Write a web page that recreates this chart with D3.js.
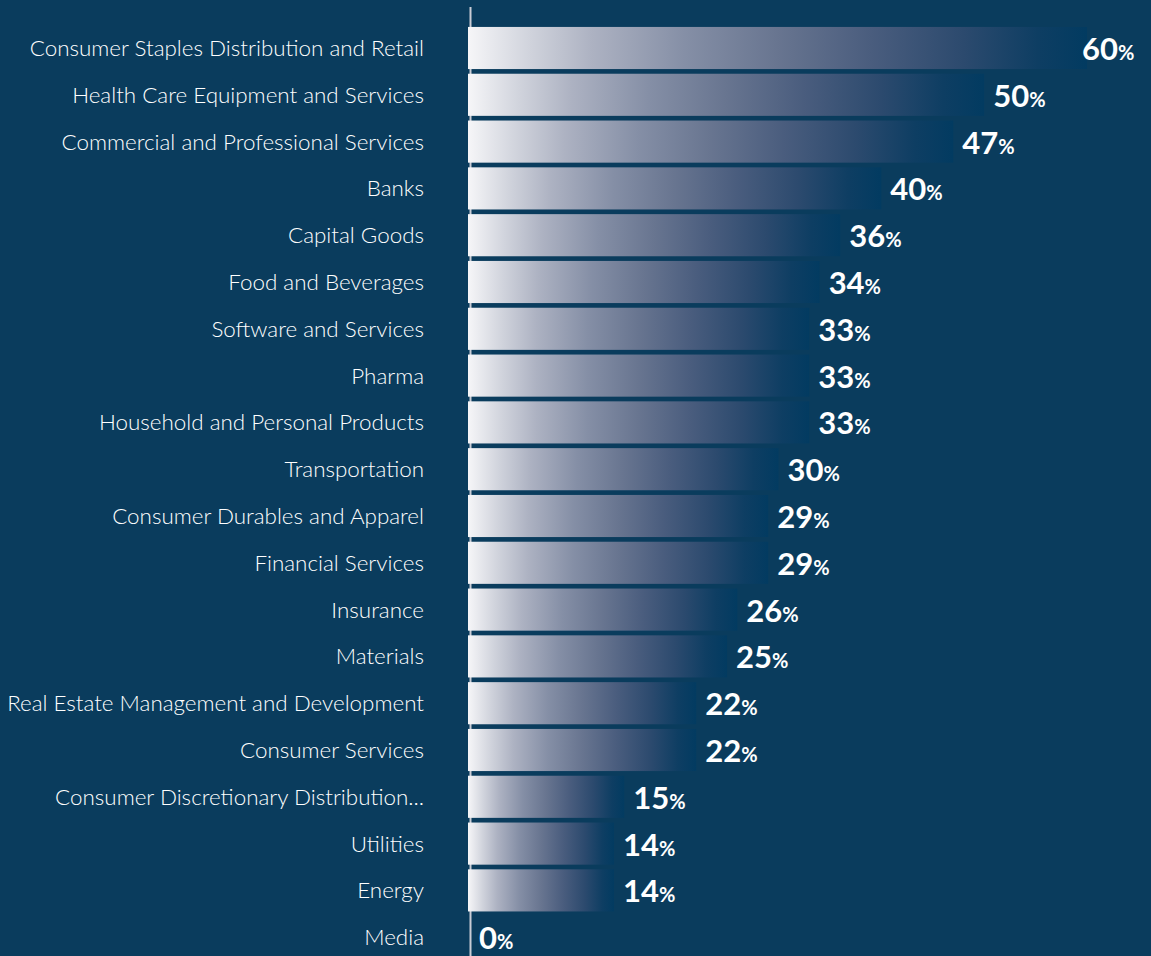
<!DOCTYPE html>
<html>
<head>
<meta charset="utf-8">
<script src="https://cdn.jsdelivr.net/npm/d3@7"></script>
<style>
  html, body { margin: 0; padding: 0; background: #0a3c5d; }
  svg { display: block; }
</style>
</head>
<body>
<svg id="chart" width="1151" height="956"></svg>
<script>
// categories, top to bottom
var categories = [
   "Consumer Staples Distribution and Retail",
   "Health Care Equipment and Services",
   "Commercial and Professional Services",
   "Banks",
   "Capital Goods",
   "Food and Beverages",
   "Software and Services",
   "Pharma",
   "Household and Personal Products",
   "Transportation",
   "Consumer Durables and Apparel",
   "Financial Services",
   "Insurance",
   "Materials",
   "Real Estate Management and Development",
   "Consumer Services",
   "Consumer Discretionary Distribution...",
   "Utilities",
   "Energy",
   "Media"
];
var values = [60, 50, 47, 40, 36, 34, 33, 33, 33, 30, 29, 29, 26, 25, 22, 22, 15, 14, 14, 0];

var width = 1151, height = 956;
var left = 470;

window.onload = function() {
   drawChart();
};

function drawChart() {
   var svg = d3.select("#chart");

   var x = d3.scaleLinear()
      .domain([0, 60])
      .range([left, 1087]);

   var y = d3.scaleBand()
      .domain(categories)
      .range([24.6, 960.6])
      .paddingInner(0.1)
      .paddingOuter(0.05);

   // gradient used by every bar (stretches with the bar)
   var grad = svg.append("defs").append("linearGradient")
      .attr("id", "barGrad")
      .attr("x1", "0").attr("x2", "1")
      .attr("y1", "0").attr("y2", "0");
   var stops = [
      [0, "#f6f6f8"], [0.1, "#d0d3dc"], [0.2, "#adb2c2"], [0.35, "#858fa6"],
      [0.5, "#687590"], [0.65, "#4a5d7e"], [0.8, "#2c4a6e"], [0.92, "#0e3e63"], [1, "#023b61"]
   ];
   stops.forEach(function(s) {
      grad.append("stop").attr("offset", s[0]).attr("stop-color", s[1]);
   });

   // axis line at zero
   svg.append("line")
      .attr("x1", left + 0.5).attr("x2", left + 0.5)
      .attr("y1", 7).attr("y2", height)
      .attr("stroke", "#c9ccd5")
      .attr("stroke-width", 2);

   var rows = svg.selectAll("g.row")
      .data(categories)
      .enter().append("g")
      .classed("row", true);

   rows.append("rect")
      .attr("x", x(0) - 2)
      .attr("y", function(d) { return y(d); })
      .attr("width", function(d, i) { return values[i] > 0 ? x(values[i]) - x(0) + 2 : 0; })
      .attr("height", y.bandwidth())
      .attr("fill", "url(#barGrad)");

   rows.append("text")
      .attr("x", 424)
      .attr("y", function(d) { return y(d) + y.bandwidth() / 2 + 8; })
      .attr("text-anchor", "end")
      .attr("fill", "#ffffff")
      .style("font-family", "Lato, 'Open Sans', sans-serif")
      .style("font-weight", 300)
      .style("font-size", "22.4px")
      .text(function(d) { return d; });

   var labels = rows.append("text")
      .attr("x", function(d, i) { return Math.min(x(values[i]) + 9, 1082); })
      .attr("y", function(d) { return y(d) + y.bandwidth() / 2 + 12; })
      .attr("fill", "#ffffff")
      .style("font-family", "Lato, 'Open Sans', sans-serif")
      .style("font-weight", 700);

   labels.append("tspan")
      .style("font-size", "31px")
      .text(function(d, i) { return values[i]; });
   labels.append("tspan")
      .style("font-size", "20px")
      .text("%");
}
</script>
</body>
</html>
